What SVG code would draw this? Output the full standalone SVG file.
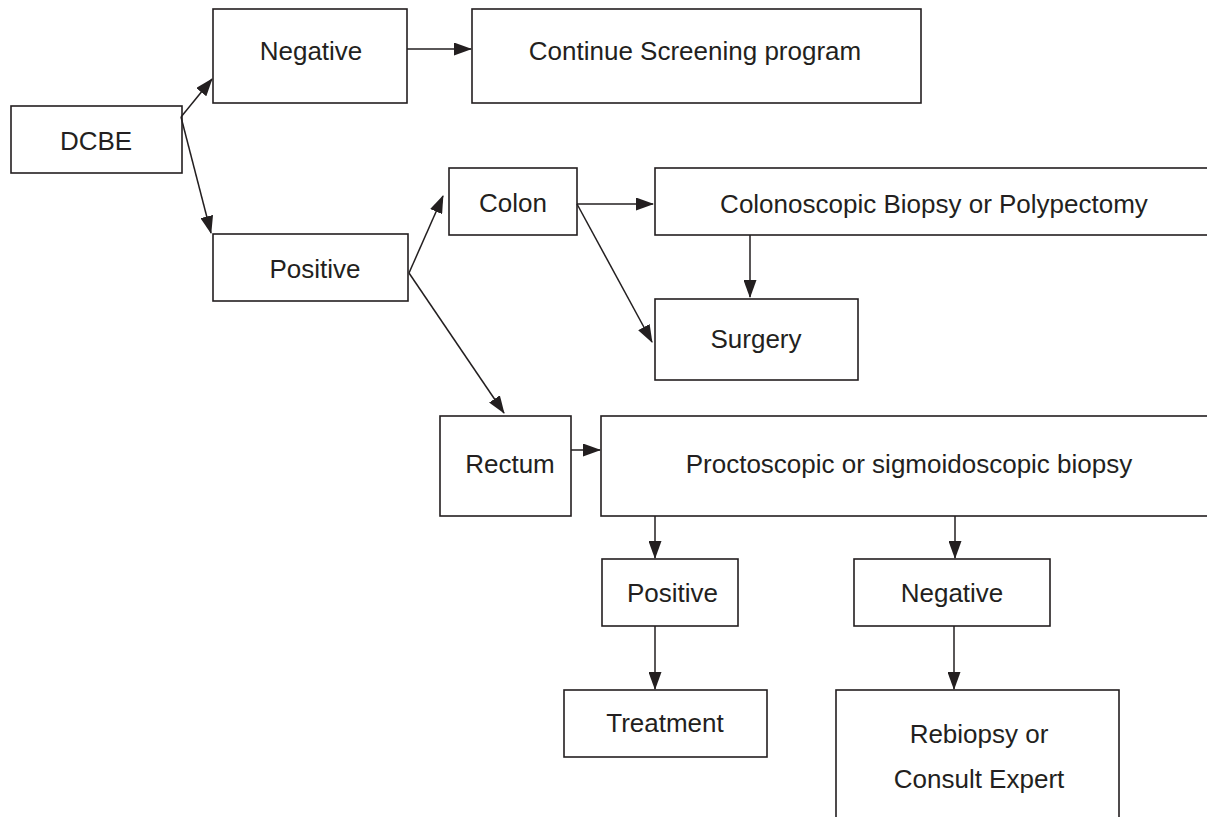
<svg xmlns="http://www.w3.org/2000/svg" width="1207" height="817" viewBox="0 0 1207 817">
<style>
.box{fill:#fff;stroke:#231f20;stroke-width:1.6}
.lbl{font-family:"Liberation Sans",Arial,sans-serif;font-size:26px;fill:#231f20;text-anchor:middle}
.con{stroke:#231f20;stroke-width:1.5;fill:none;marker-end:url(#ah)}
</style>
<defs>
<marker id="ah" markerUnits="userSpaceOnUse" markerWidth="18" markerHeight="13" refX="17" refY="6.5" orient="auto">
<path d="M0,0 L18,6.5 L0,13 z" fill="#231f20"/>
</marker>
</defs>
<rect width="1207" height="817" fill="#fff"/>
<g id="n-dcbe"><rect class="box" x="11" y="106" width="171" height="67"/><text class="lbl" x="96" y="150">DCBE</text></g>
<g id="n-negative"><rect class="box" x="213" y="9" width="194" height="94"/><text class="lbl" x="311" y="60">Negative</text></g>
<g id="n-continue"><rect class="box" x="472" y="9" width="449" height="94"/><text class="lbl" x="695" y="60">Continue Screening program</text></g>
<g id="n-positive"><rect class="box" x="213" y="234" width="195" height="67"/><text class="lbl" x="315" y="278">Positive</text></g>
<g id="n-colon"><rect class="box" x="449" y="168" width="128" height="67"/><text class="lbl" x="513" y="212">Colon</text></g>
<g id="n-colonoscopic"><rect class="box" x="655" y="168" width="570" height="67"/><text class="lbl" x="934" y="213">Colonoscopic Biopsy or Polypectomy</text></g>
<g id="n-surgery"><rect class="box" x="655" y="299" width="203" height="81"/><text class="lbl" x="756" y="348">Surgery</text></g>
<g id="n-rectum"><rect class="box" x="440" y="416" width="131" height="100"/><text class="lbl" x="510" y="473">Rectum</text></g>
<g id="n-procto"><rect class="box" x="601" y="416" width="620" height="100"/><text class="lbl" x="909" y="473">Proctoscopic or sigmoidoscopic biopsy</text></g>
<g id="n-positive2"><rect class="box" x="602" y="559" width="136" height="67"/><text class="lbl" x="672.5" y="602">Positive</text></g>
<g id="n-negative2"><rect class="box" x="854" y="559" width="196" height="67"/><text class="lbl" x="952" y="602">Negative</text></g>
<g id="n-treatment"><rect class="box" x="564" y="690" width="203" height="67"/><text class="lbl" x="665" y="732">Treatment</text></g>
<g id="n-rebiopsy"><rect class="box" x="836" y="690" width="283" height="140"/><text class="lbl" x="979" y="743">Rebiopsy or</text><text class="lbl" x="979" y="788">Consult Expert</text></g>
<g id="connectors">
<line class="con" x1="181" y1="117" x2="212" y2="79"/>
<line class="con" x1="181" y1="117" x2="211" y2="233"/>
<line class="con" x1="407" y1="49" x2="471" y2="49"/>
<line class="con" x1="409" y1="273" x2="443" y2="196"/>
<line class="con" x1="409" y1="273" x2="504" y2="413"/>
<line class="con" x1="577" y1="204" x2="653" y2="204"/>
<line class="con" x1="577" y1="204" x2="652" y2="342"/>
<line class="con" x1="750" y1="235" x2="750" y2="297"/>
<line class="con" x1="571" y1="450" x2="600" y2="450"/>
<line class="con" x1="655" y1="516" x2="655" y2="558"/>
<line class="con" x1="955" y1="516" x2="955" y2="558"/>
<line class="con" x1="655" y1="626" x2="655" y2="689"/>
<line class="con" x1="954" y1="626" x2="954" y2="689"/>
</g>
</svg>
